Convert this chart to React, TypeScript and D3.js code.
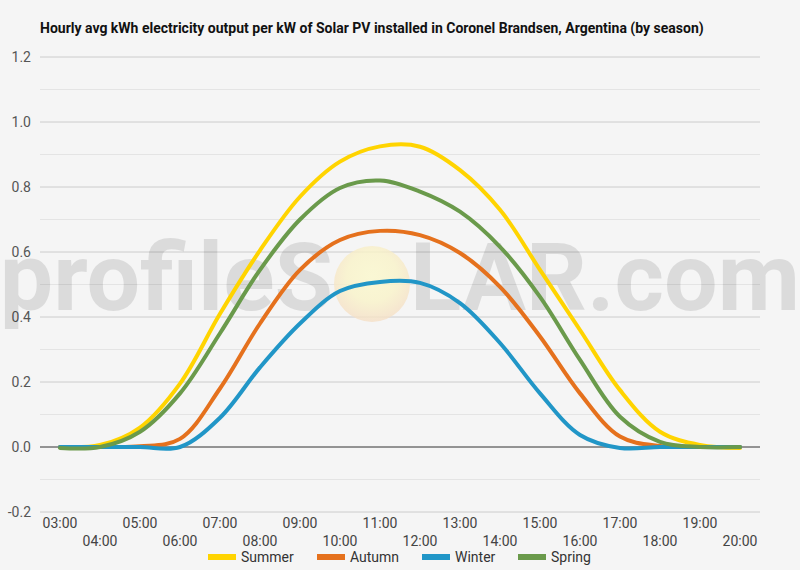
import * as d3 from 'd3';

const hours = [
  '03:00', '04:00', '05:00', '06:00', '07:00', '08:00', '09:00', '10:00', '11:00',
  '12:00', '13:00', '14:00', '15:00', '16:00', '17:00', '18:00', '19:00', '20:00',
];

const summer = [0, 0.006, 0.06, 0.195, 0.41, 0.605, 0.77, 0.878, 0.925, 0.924, 0.852, 0.73, 0.545, 0.36, 0.175, 0.047, 0.006, -0.003];
const autumn = [0, 0, 0.002, 0.025, 0.18, 0.38, 0.545, 0.637, 0.665, 0.652, 0.597, 0.493, 0.34, 0.165, 0.032, 0.003, 0, 0];
const winter = [0, 0, 0, 0, 0.09, 0.245, 0.38, 0.48, 0.508, 0.505, 0.443, 0.32, 0.165, 0.037, -0.003, 0, 0, 0];
const spring = [-0.003, 0, 0.047, 0.165, 0.35, 0.545, 0.7, 0.797, 0.82, 0.786, 0.724, 0.616, 0.462, 0.268, 0.093, 0.016, 0, 0];

const seriesNames = ['Summer', 'Autumn', 'Winter', 'Spring'];
const seriesColors = ['#FFD400', '#E5711D', '#2196C7', '#6A9A4B'];
const seriesValues = [summer, autumn, winter, spring];

const yTicks = [-0.2, 0, 0.2, 0.4, 0.6, 0.8, 1.0, 1.2];
const yMinor = [-0.1, 0.1, 0.3, 0.5, 0.7, 0.9, 1.1];

const width = 800;
const height = 570;
const font = "Roboto, 'Noto Sans', sans-serif";

export default function App() {
  const x = d3.scalePoint<string>().domain(hours).range([40, 760]).padding(0.5);
  const y = d3.scaleLinear().domain([-0.2, 1.2]).range([512, 57]);

  const line = d3
    .line<number>()
    .x((_, i) => x(hours[i]) ?? 0)
    .y((v) => y(v))
    .curve(d3.curveCatmullRom.alpha(0.5));

  const legendX = [208, 317, 422, 518];

  return (
    <svg
      width={width}
      height={height}
      style={{ position: 'absolute', left: 0, top: 0, background: '#f5f5f5' }}
    >
      <defs>
        <radialGradient id="sun" cx="50%" cy="40%" r="60%">
          <stop offset="0%" stopColor="#fbf8cc" />
          <stop offset="55%" stopColor="#f9f3c8" />
          <stop offset="100%" stopColor="#f5dfc6" />
        </radialGradient>
      </defs>
      <rect width={width} height={height} fill="#f5f5f5" />

      <text x={40} y={33} fontFamily={font} fontWeight="bold" fontSize={14} fill="#111">
        Hourly avg kWh electricity output per kW of Solar PV installed in Coronel Brandsen, Argentina (by season)
      </text>

      {yMinor.map((t) => (
        <line key={`m${t}`} x1={40} x2={760} y1={y(t)} y2={y(t)} stroke="#e4e4e4" />
      ))}
      {yTicks.map((t) => (
        <g key={`t${t}`}>
          <line x1={40} x2={760} y1={y(t)} y2={y(t)} stroke={t === 0 ? '#333' : '#cccccc'} />
          <text
            x={31}
            y={y(t)}
            dy="0.35em"
            textAnchor="end"
            fontFamily={font}
            fontSize={14}
            fill="#555"
          >
            {t.toFixed(1)}
          </text>
        </g>
      ))}

      {/* watermark */}
      <g opacity={0.1} fontFamily={font} fontWeight="bold" fontSize={95} fill="#000">
        <text x={333} y={310} textAnchor="end">profileS</text>
        <text x={410} y={310}>LAR.com</text>
      </g>
      <circle cx={372} cy={284} r={38} fill="url(#sun)" opacity={0.8} />

      {seriesValues.map((vals, i) => (
        <path
          key={seriesNames[i]}
          d={line(vals) ?? ''}
          fill="none"
          stroke={seriesColors[i]}
          strokeWidth={4}
          strokeLinecap="round"
        />
      ))}

      {hours.map((h, i) => (
        <text
          key={h}
          x={x(h)}
          y={i % 2 === 0 ? 528 : 546}
          textAnchor="middle"
          fontFamily={font}
          fontSize={14}
          fill="#444"
        >
          {h}
        </text>
      ))}

      {seriesNames.map((name, i) => (
        <g key={name} transform={`translate(${legendX[i]},557)`}>
          <rect x={0} y={-3} width={28} height={6} fill={seriesColors[i]} />
          <text x={33} y={0} dy="0.35em" fontFamily={font} fontSize={14} fill="#333">
            {name}
          </text>
        </g>
      ))}
    </svg>
  );
}
